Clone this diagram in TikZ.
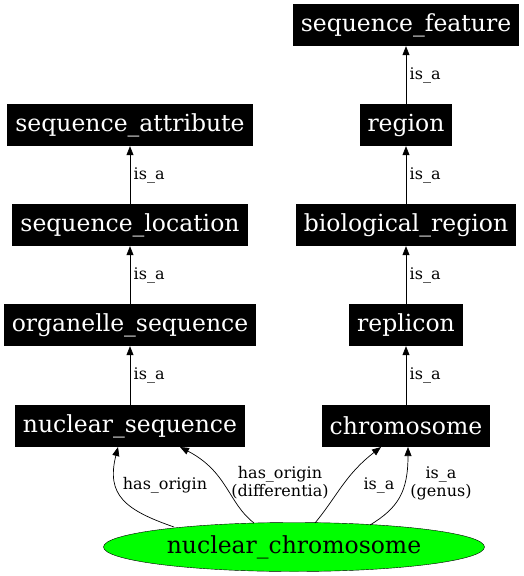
\documentclass[tikz,border=0pt]{standalone}
\usepackage{fontspec}
\setmainfont{DejaVu Serif}
\usetikzlibrary{arrows.meta,shapes.geometric}
\begin{document}
\begin{tikzpicture}[x=1pt,y=-1pt,
  term/.style={fill=black,text=white,font=\fontsize{23.5}{27}\selectfont,minimum height=42pt,inner xsep=8pt},
  lbl/.style={font=\fontsize{16}{18}\selectfont,align=center,text=black},
  rel/.style={draw=black,line width=0.7pt,-{Triangle[length=9pt,width=7pt]}}]
\useasboundingbox (0,0) rectangle (523,576);
\node[term] (sf) at (406,25) {sequence\_feature};
\node[term] (rg) at (406,125) {region};
\node[term] (br) at (406,225) {biological\_region};
\node[term] (rp) at (406,325) {replicon};
\node[term] (ch) at (406,426) {chromosome};
\node[term] (sa) at (130,125) {sequence\_attribute};
\node[term] (sl) at (130,225) {sequence\_location};
\node[term] (os) at (130,325) {organelle\_sequence};
\node[term] (ns) at (130,426) {nuclear\_sequence};
\node[ellipse,draw=black,fill=green,minimum width=381pt,minimum height=49pt,inner sep=0pt,font=\fontsize{23.5}{27}\selectfont] (nc) at (294,547) {nuclear\_chromosome};
\draw[rel] (rg) -- node[lbl,right,pos=0.5] {is\_a} (sf);
\draw[rel] (br) -- node[lbl,right,pos=0.5] {is\_a} (rg);
\draw[rel] (rp) -- node[lbl,right,pos=0.5] {is\_a} (br);
\draw[rel] (ch) -- node[lbl,right,pos=0.5] {is\_a} (rp);
\draw[rel] (sl) -- node[lbl,right,pos=0.5] {is\_a} (sa);
\draw[rel] (os) -- node[lbl,right,pos=0.5] {is\_a} (sl);
\draw[rel] (ns) -- node[lbl,right,pos=0.5] {is\_a} (os);
\coordinate (e1s) at (174,527); \coordinate (e1t) at (118,447);
\coordinate (e2s) at (254,523); \coordinate (e2t) at (180,447);
\coordinate (e3s) at (315,523); \coordinate (e3t) at (381,447);
\coordinate (e4s) at (370,525); \coordinate (e4t) at (408,447);
\draw[rel] (e1s) .. controls (125,510) and (106,495) .. (e1t);
\draw[rel] (e2s) .. controls (228,503) and (228,472) .. (e2t);
\draw[rel] (e3s) .. controls (338,495) and (345,475) .. (e3t);
\draw[rel] (e4s) .. controls (398,508) and (408,492) .. (e4t);
\node[lbl] (l1) at (165,485) {has\_origin};
\node[lbl] (l2) at (280,483) {has\_origin\\(differentia)};
\node[lbl] (l3) at (379,485) {is\_a};
\node[lbl] (l4) at (441,483) {is\_a\\(genus)};
\end{tikzpicture}
\end{document}
